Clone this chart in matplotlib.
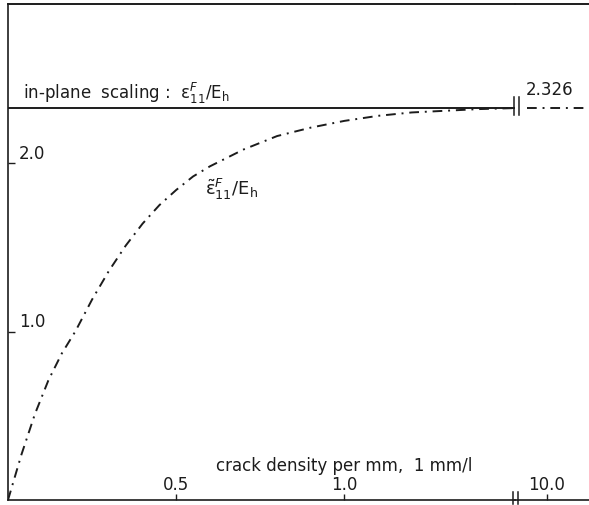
import numpy as np
import matplotlib
matplotlib.use("Agg")
import matplotlib.pyplot as plt
from matplotlib.lines import Line2D
from matplotlib.transforms import IdentityTransform

plt.rcParams["font.family"] = ["DejaVu Sans"]
plt.rcParams["mathtext.fontset"] = "dejavusans"

# stiffness ratio vs crack density
crack_density = [0, 0.04, 0.08, 0.12, 0.16, 0.20, 0.25, 0.30, 0.35, 0.40, 0.45,
                 0.50, 0.55, 0.60, 0.65, 0.70, 0.75, 0.80, 0.90, 1.00, 1.10,
                 1.20, 1.30, 1.40, 1.507]
ratio = [0, 0.27, 0.51, 0.71, 0.87, 1.00, 1.19, 1.36, 1.51, 1.64, 1.75,
         1.84, 1.92, 1.98, 2.03, 2.08, 2.12, 2.16, 2.21, 2.25, 2.28,
         2.30, 2.31, 2.32, 2.326]
far_density = [9.73, 10.568]        # beyond the axis break
limit = 2.326                       # in-plane scaling value
xticks_main = [0.5, 1.0]
xticks_far = [10.0]
yticks = [1.0, 2.0]

W, H = 589, 506
fig = plt.figure(figsize=(W / 100, H / 100), dpi=100)
ink = "#1c1c1c"

def fx(px):
    return px / W

def fy(py):
    return (H - py) / H

# main axis (0 .. break) and small axis after the break
x0, xb, ytop, ybot = 8, 515, 5, 501
ax = fig.add_axes([fx(x0), fy(ybot), fx(xb - x0), fy(ytop) - fy(ybot)])
ax2 = fig.add_axes([fx(xb), fy(ybot), fx(W - xb), fy(ytop) - fy(ybot)])

ymax = (ybot - ytop) / 168.5
ax.set_xlim(0, crack_density[-1])
ax.set_ylim(0, ymax)
ax2.set_xlim(9.568, 10.568)
ax2.set_ylim(0, ymax)

for a in (ax, ax2):
    a.patch.set_alpha(0)
    for s in a.spines.values():
        s.set_color(ink)
        s.set_linewidth(1.2)
    a.spines["right"].set_visible(False)
ax2.spines["left"].set_visible(False)

dd = dict(color=ink, lw=1.4, dashes=(5, 3, 1, 3), solid_capstyle="butt")
ax.plot(crack_density, ratio, **dd)
ax.axhline(limit, color=ink, lw=1.4)
ax2.plot(far_density, [limit, limit], **dd)

# ticks: short, inward, labels drawn above the axis
ax.set_xticks(xticks_main)
ax2.set_xticks(xticks_far)
ax.set_yticks(yticks)
ax2.set_yticks([])
ax.tick_params(axis="x", direction="in", length=4, width=1, color=ink, labelbottom=False)
ax2.tick_params(axis="x", direction="in", length=4, width=1, color=ink, labelbottom=False)
ax.tick_params(axis="y", direction="in", length=5, width=1, color=ink, labelleft=False)

fs = 12
for v in xticks_main:
    ax.annotate(f"{v:.1f}", (v, 0), xytext=(0, 5), textcoords="offset points",
                ha="center", va="bottom", fontsize=fs, color=ink)
for v in xticks_far:
    ax2.annotate(f"{v:.1f}", (v, 0), xytext=(0, 5), textcoords="offset points",
                 ha="center", va="bottom", fontsize=fs, color=ink)
for v in yticks:
    ax.annotate(f"{v:.1f}", (0, v), xytext=(8, 1), textcoords="offset points",
                ha="left", va="bottom", fontsize=fs, color=ink)

ax.text(1.0, 0.205, "crack density per mm,  1 mm/l", ha="center", va="center",
        fontsize=fs, color=ink)
ax.text(0.045, 2.42, r"in-plane  scaling :  $\mathrm{\varepsilon}_{11}^{F}/\mathrm{E}_{\mathrm{h}}$",
        ha="left", va="center", fontsize=fs, color=ink)
ax.text(0.585, 1.85, r"$\tilde{\mathrm{\varepsilon}}_{11}^{F}/\mathrm{E}_{\mathrm{h}}$",
        ha="left", va="center", fontsize=13, color=ink)
ax2.annotate(f"{limit}", (10.04, limit), xytext=(0, 7), textcoords="offset points",
             ha="center", va="bottom", fontsize=fs, color=ink)

# top frame line over the full width
fig.add_artist(Line2D([fx(x0), 1.0], [fy(ytop), fy(ytop)], color=ink, lw=1.2,
                      transform=fig.transFigure))

# axis break marks "||"
def brk(xc, yc, half):
    for dx in (-2.5, 2.5):
        fig.add_artist(Line2D([xc + dx, xc + dx], [H - yc - half, H - yc + half],
                              color=ink, lw=1.1, transform=IdentityTransform()))

brk(515, 499, 6)
brk(516, 107, 9)

fig.savefig("out.png", dpi=100, facecolor="white")
